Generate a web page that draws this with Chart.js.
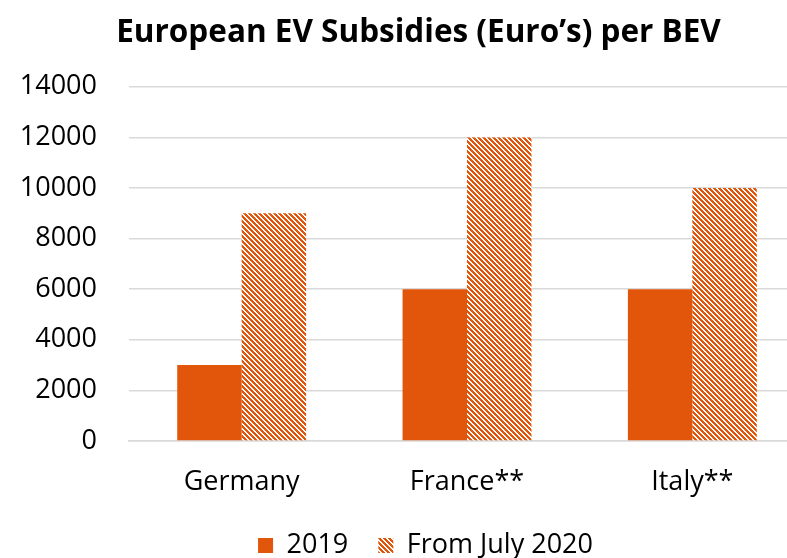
<!DOCTYPE html>
<html>
<head>
<meta charset="utf-8">
<script src="https://cdn.jsdelivr.net/npm/chart.js@4/dist/chart.umd.min.js"></script>
<style>
  html, body { margin: 0; padding: 0; background: #fff; overflow: hidden; }
  #wrap { width: 787px; height: 558px; overflow: hidden; }
</style>
</head>
<body>
<div id="wrap"><canvas id="c" width="838" height="569"></canvas></div>
<script>
// data
const countries = ["Germany", "France**", "Italy**"];
const sub2019 = [3000, 6000, 6000];
const subJuly2020 = [9000, 12000, 10000];
const seriesNames = ["2019", "From July 2020"];
const yTicks = [0, 2000, 4000, 6000, 8000, 10000, 12000, 14000];

const ORANGE = "#e1560a";
const FONT = "'Open Sans', 'Noto Sans', sans-serif";

// diagonal "\" stripes like the excel hatch fill
function hatch() {
  const n = 5, c = document.createElement("canvas");
  c.width = n; c.height = n;
  const g = c.getContext("2d");
  g.fillStyle = "#fff"; g.fillRect(0, 0, n, n);
  g.fillStyle = ORANGE;
  for (let y = 0; y < n; y++)
    for (let x = 0; x < n; x++)
      if (((x - y) % n + n) % n < 3) g.fillRect(x, y, 1, 1);
  return g.createPattern(c, "repeat");
}
const stripes = hatch();

// excel centres title/legend on its own frame, nudge them right a bit
const nudge = {
  id: "nudge",
  afterLayout(chart) {
    const move = (box, dx) => { if (box) { box.left += dx; box.right += dx; } };
    move(chart.titleBlock, 16);
    move(chart.legend, 23);
  }
};

new Chart(document.getElementById("c"), {
  type: "bar",
  data: {
    labels: countries,
    datasets: [
      { label: seriesNames[0], data: sub2019, backgroundColor: ORANGE, borderWidth: 0 },
      { label: seriesNames[1], data: subJuly2020, backgroundColor: stripes, borderWidth: 0 }
    ]
  },
  plugins: [nudge],
  options: {
    responsive: false, animation: false,
    devicePixelRatio: 1,
    categoryPercentage: 0.572, barPercentage: 1.0,
    layout: { padding: { left: 0, right: 33, top: 0, bottom: 0 } },
    plugins: {
      tooltip: { enabled: false },
      title: {
        display: true, text: "European EV Subsidies (Euro’s) per BEV",
        color: "#000", font: { family: FONT, size: 31.5, weight: "bold" },
        padding: { top: 14, bottom: 35 }
      },
      legend: {
        position: "bottom",
        labels: {
          color: "#000", font: { family: FONT, size: 27 },
          boxWidth: 15, boxHeight: 15, padding: 30
        }
      }
    },
    scales: {
      x: {
        grid: { display: false },
        border: { color: "#d9d9d9", width: 1.5 },
        ticks: { color: "#000", font: { family: FONT, size: 27 }, padding: 17 },
        afterFit: s => { s.height = 61; }
      },
      y: {
        min: 0, max: 14000,
        afterBuildTicks: s => { s.ticks = yTicks.map(v => ({ value: v })); },
        grid: { color: "#d9d9d9", lineWidth: 1.5, drawTicks: false },
        border: { display: false },
        ticks: { color: "#000", font: { family: FONT, size: 27 }, padding: 32, callback: v => String(v) },
        afterFit: s => { s.width = 129; }
      }
    }
  }
});
</script>
</body>
</html>
